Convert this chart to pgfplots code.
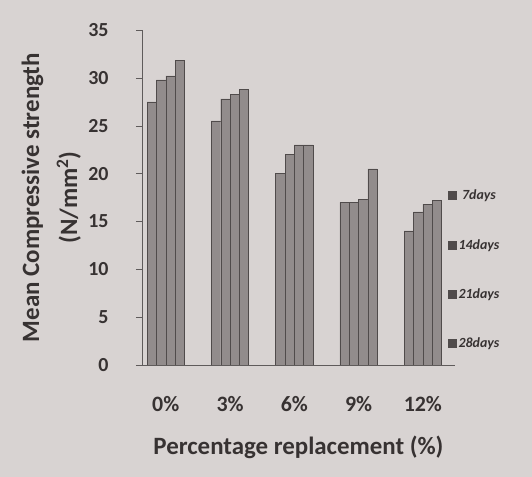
\documentclass[border=0pt]{standalone}
\usepackage{fontspec}
\setmainfont{Carlito}
\usepackage{pgfplots}
\pgfplotsset{compat=1.18}
\definecolor{bgcol}{RGB}{216,211,210}
\definecolor{barfill}{RGB}{146,140,140}
\definecolor{baredge}{RGB}{80,75,75}
\definecolor{txt}{RGB}{55,50,50}
\begin{document}
\begin{tikzpicture}
\useasboundingbox (0,0) rectangle (532bp,477bp);
\fill[bgcol] (0,0) rectangle (532bp,477bp);
\begin{axis}[
  at={(142bp,112bp)}, anchor=south west,
  scale only axis, width=313bp, height=335bp,
  xmin=-0.37, xmax=4.50, ymin=0, ymax=35,
  ybar=0pt, bar width=0.145,
  axis x line*=bottom, axis y line*=left,
  axis line style={color=txt!80},
  xtick={0,1,2,3,4}, xticklabels={0\%,3\%,6\%,9\%,12\%},
  major x tick style={draw=none},
  ytick={0,5,...,35},
  tick align=outside, major tick length=6bp,
  ytick style={color=txt!80},
  /pgf/number format/assume math mode=true,
  yticklabel style={font=\bfseries\fontsize{20}{22}\selectfont, text=txt, xshift=-24bp},
  xticklabel style={font=\bfseries\fontsize{22}{24}\selectfont, text=txt, yshift=-22bp},
  xlabel={Percentage replacement (\%)},
  xlabel style={at={(axis description cs:0.5,-0.245)}, anchor=center, font=\bfseries\fontsize{25}{28}\selectfont, text=txt},
  ylabel={Mean Compressive strength\\(N/mm\textsuperscript{2})},
  ylabel style={at={(axis description cs:-0.29,0.5)}, anchor=center, align=center, font=\bfseries\fontsize{25}{38}\selectfont, text=txt},
  legend style={at={(0.968,0.535)}, anchor=north west, draw=none, fill=none,
    font=\bfseries\itshape\fontsize{14}{16}\selectfont, text=txt, row sep=34bp},
  legend image code/.code={\fill[baredge] (0bp,-4bp) rectangle (8bp,4bp);},
]
\addplot[fill=barfill, draw=baredge] coordinates {(0,27.5) (1,25.5) (2,20) (3,17) (4,14)};
\addplot[fill=barfill, draw=baredge] coordinates {(0,29.8) (1,27.8) (2,22) (3,17) (4,16)};
\addplot[fill=barfill, draw=baredge] coordinates {(0,30.2) (1,28.3) (2,23) (3,17.3) (4,16.8)};
\addplot[fill=barfill, draw=baredge] coordinates {(0,31.8) (1,28.8) (2,23) (3,20.5) (4,17.2)};
\legend{7days,14days,21days,28days}
\end{axis}
\end{tikzpicture}
\end{document}
